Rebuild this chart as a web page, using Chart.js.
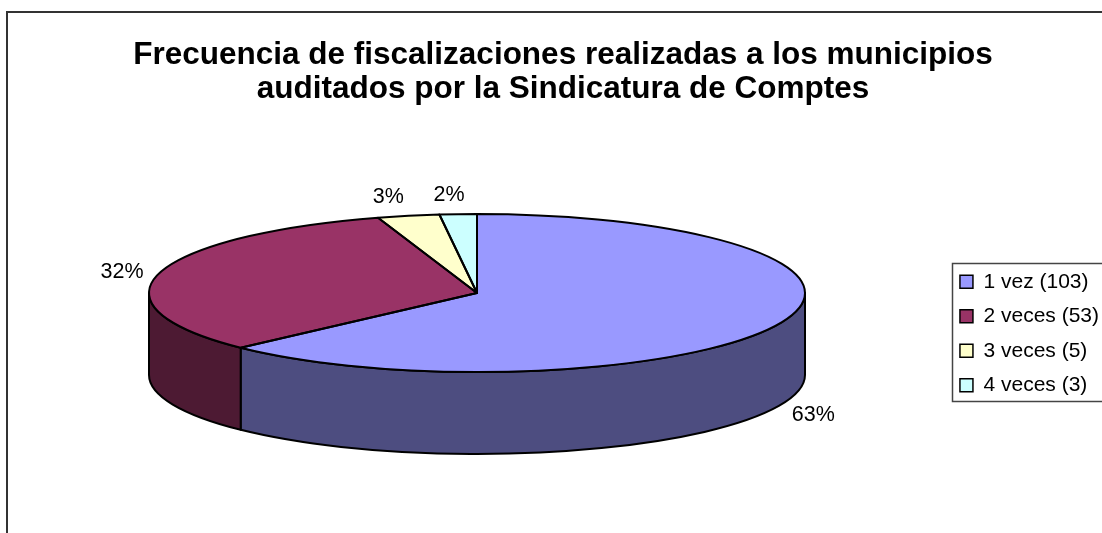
<!DOCTYPE html>
<html>
<head>
<meta charset="utf-8">
<style>
  html, body { margin: 0; padding: 0; background: #fff; overflow: hidden; }
  canvas { display: block; }
</style>
</head>
<body>
<canvas id="pieChart" width="1102" height="533"></canvas>
<script src="https://cdn.jsdelivr.net/npm/chart.js@4/dist/chart.umd.min.js"></script>
<script>
var categories = ["1 vez (103)", "2 veces (53)", "3 veces (5)", "4 veces (3)"];
var counts = [103, 53, 5, 3];
var percentLabels = ["63%", "32%", "3%", "2%"];
var topColors = ["#9999ff", "#993366", "#ffffcc", "#ccffff"];
var wallColors = ["#4d4d80", "#4d1a33", "#80806a", "#668080"];
var titleLines = [
    "Frecuencia de fiscalizaciones realizadas a los municipios",
    "auditados por la Sindicatura de Comptes"
];

// flattened pie geometry on the page
var pieCx = 477, pieCy = 293, pieRx = 328, pieRy = 79, pieDepth = 82;
// nudge of each percent label away from the rim
var labelNudge = [[34.5, 9.5], [-37, -1], [-20, -19], [-9, -19]];

var fontFamily = '"Liberation Sans", Arial, sans-serif';

// Chart.js only draws round pies, so squash the arcs with a canvas transform
// and add the side wall and the outlines from the arcs' own angles.
var flatPie = {
    id: 'flatPie',
    beforeDraw: function(chart) {
        var ctx = chart.ctx;
        ctx.save();
        ctx.strokeStyle = '#333';
        ctx.lineWidth = 2;
        // outer frame, cut off on the right and bottom in the original
        ctx.beginPath();
        ctx.moveTo(7, 533);
        ctx.lineTo(7, 12);
        ctx.lineTo(1102, 12);
        ctx.stroke();
        // legend box
        ctx.lineWidth = 1.5;
        ctx.strokeStyle = '#444';
        ctx.strokeRect(952.5, 263.5, 170, 138);
        ctx.restore();
    },
    beforeDatasetsDraw: function(chart) {
        var ctx = chart.ctx;
        var arcs = chart.getDatasetMeta(0).data;
        ctx.save();
        ctx.lineWidth = 2;
        ctx.strokeStyle = '#000';
        ctx.lineJoin = 'round';
        for (var i = 0; i < arcs.length; i++) {
            // only the part of the rim facing the viewer gets a wall
            var a = Math.max(arcs[i].startAngle, 0);
            var b = Math.min(arcs[i].endAngle, Math.PI);
            if (b <= a) continue;
            ctx.beginPath();
            ctx.ellipse(pieCx, pieCy, pieRx, pieRy, 0, a, b);
            ctx.ellipse(pieCx, pieCy + pieDepth, pieRx, pieRy, 0, b, a, true);
            ctx.closePath();
            ctx.fillStyle = wallColors[i];
            ctx.fill();
            ctx.stroke();
        }
        ctx.restore();

        var first = arcs[0];
        var r = first.outerRadius;
        ctx.save();
        ctx.translate(pieCx, pieCy);
        ctx.scale(pieRx / r, pieRy / r);
        ctx.translate(-first.x, -first.y);
    },
    afterDatasetsDraw: function(chart) {
        var ctx = chart.ctx;
        var arcs = chart.getDatasetMeta(0).data;
        ctx.restore();

        ctx.save();
        ctx.lineWidth = 2;
        ctx.strokeStyle = '#000';
        ctx.lineJoin = 'round';
        for (var i = 0; i < arcs.length; i++) {
            ctx.beginPath();
            ctx.moveTo(pieCx, pieCy);
            ctx.ellipse(pieCx, pieCy, pieRx, pieRy, 0, arcs[i].startAngle, arcs[i].endAngle);
            ctx.closePath();
            ctx.stroke();
        }

        // percent labels
        ctx.fillStyle = '#000';
        ctx.font = '21.5px ' + fontFamily;
        ctx.textAlign = 'center';
        ctx.textBaseline = 'middle';
        for (var j = 0; j < arcs.length; j++) {
            var mid = (arcs[j].startAngle + arcs[j].endAngle) / 2;
            var x = pieCx + pieRx * Math.cos(mid);
            var y = pieCy + pieRy * Math.sin(mid);
            if (Math.sin(mid) > 0) y += pieDepth;
            ctx.fillText(percentLabels[j], x + labelNudge[j][0], y + labelNudge[j][1]);
        }
        ctx.restore();
    }
};

new Chart(document.getElementById('pieChart').getContext('2d'), {
    type: 'pie',
    data: {
        labels: categories,
        datasets: [{
            data: counts,
            backgroundColor: topColors,
            borderWidth: 0
        }]
    },
    options: {
        responsive: false,
        animation: false,
        layout: { padding: { top: 38, left: 17, right: -7 } },
        plugins: {
            tooltip: { enabled: false },
            title: {
                display: true,
                text: titleLines,
                color: '#000',
                font: { family: fontFamily, size: 31.5, weight: 'bold', lineHeight: 1.08 },
                padding: { top: 0, bottom: 28 }
            },
            legend: {
                position: 'right',
                fullSize: false,
                labels: {
                    color: '#000',
                    font: { family: fontFamily, size: 21 },
                    boxWidth: 13,
                    boxHeight: 13,
                    padding: 13.5,
                    generateLabels: function(chart) {
                        var items = Chart.overrides.pie.plugins.legend.labels.generateLabels(chart);
                        items.forEach(function(item) {
                            item.strokeStyle = '#000';
                            item.lineWidth = 1.5;
                        });
                        return items;
                    }
                }
            }
        }
    },
    plugins: [flatPie]
});
</script>
</body>
</html>
